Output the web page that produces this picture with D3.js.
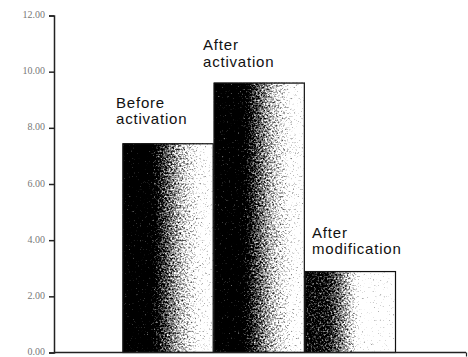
<!DOCTYPE html>
<html>
<head>
<meta charset="utf-8">
<script src="https://cdn.jsdelivr.net/npm/d3@7"></script>
<style>
  html, body { margin: 0; padding: 0; background: #fff; }
  svg { display: block; }
</style>
</head>
<body>
<svg id="chart" width="468" height="357"></svg>
<script>
// ---- data ----
const categories = ["Before activation", "After activation", "After modification"];
const labelLines = [["Before", "activation"], ["After", "activation"], ["After", "modification"]];
const values = [7.45, 9.61, 2.9];
const yTicks = [0, 2, 4, 6, 8, 10, 12];
const yTickLabels = ["0.00", "2.00", "4.00", "6.00", "8.00", "10.00", "12.00"];

const svg = d3.select("#chart");
const axisX = 54, axisY = 352.5, axisRight = 466;

const y = d3.scaleLinear().domain([0, 12]).range([axisY, 15.5]);
const x = d3.scaleBand().domain(categories).range([122.5, 396]).padding(0);

// ---- defs: gradients and grain filter ----
const defs = svg.append("defs");
const gradStops = [
  [[0, "#000"], [0.3, "#000"], [0.45, "#555"], [0.62, "#a0a0a0"], [0.85, "#e8e8e8"], [1, "#fafafa"]],
  [[0, "#000"], [0.3, "#000"], [0.45, "#555"], [0.62, "#a0a0a0"], [0.85, "#e8e8e8"], [1, "#fafafa"]],
  [[0, "#2a2a2a"], [0.25, "#3e3e3e"], [0.4, "#808080"], [0.55, "#d2d2d2"], [0.62, "#fff"], [1, "#fff"]]
];
gradStops.forEach((stops, i) => {
  const g = defs.append("linearGradient").attr("id", "g" + i)
    .attr("x1", "0").attr("y1", "0").attr("x2", "1").attr("y2", "0");
  stops.forEach(s => g.append("stop").attr("offset", s[0]).attr("stop-color", s[1]));
});
const f = defs.append("filter").attr("id", "grain")
  .attr("x", 0).attr("y", 0).attr("width", 1).attr("height", 1)
  .attr("color-interpolation-filters", "sRGB");
f.append("feTurbulence").attr("type", "fractalNoise").attr("baseFrequency", 0.55)
  .attr("numOctaves", 2).attr("seed", 7).attr("result", "n");
f.append("feColorMatrix").attr("in", "n").attr("type", "matrix")
  .attr("values", "1 0 0 0 0  1 0 0 0 0  1 0 0 0 0  0 0 0 0 1").attr("result", "gn");
f.append("feComposite").attr("in", "SourceGraphic").attr("in2", "gn")
  .attr("operator", "arithmetic").attr("k1", 0).attr("k2", 1).attr("k3", 1.2).attr("k4", -0.6)
  .attr("result", "s");
const ct = f.append("feComponentTransfer").attr("in", "s").attr("result", "t");
["feFuncR", "feFuncG", "feFuncB"].forEach(fn =>
  ct.append(fn).attr("type", "linear").attr("slope", 1.7).attr("intercept", -0.35));
f.append("feComposite").attr("in", "t").attr("in2", "SourceAlpha").attr("operator", "in");

// ---- bars ----
const bars = svg.append("g");
bars.selectAll("rect.fill").data(values).join("rect")
  .attr("class", "fill")
  .attr("x", (d, i) => x(categories[i]))
  .attr("y", d => y(d))
  .attr("width", x.bandwidth())
  .attr("height", d => axisY - y(d))
  .attr("fill", (d, i) => `url(#g${i})`)
  .attr("filter", "url(#grain)");
bars.selectAll("rect.edge").data(values).join("rect")
  .attr("class", "edge")
  .attr("x", (d, i) => x(categories[i]) + 0.5)
  .attr("y", d => y(d) + 0.5)
  .attr("width", x.bandwidth() - 1)
  .attr("height", d => axisY - y(d) - 0.5)
  .attr("fill", "none")
  .attr("stroke", "#111")
  .attr("stroke-width", 1.2);

// ---- y axis ----
const yAxis = d3.axisLeft(y).tickValues(yTicks)
  .tickFormat((d, i) => yTickLabels[i]).tickSize(5).tickPadding(4);
const ya = svg.append("g").attr("transform", `translate(${axisX},0)`).call(yAxis);
ya.select(".domain").attr("stroke", "#222").attr("stroke-width", 1.5);
ya.selectAll(".tick line").attr("stroke", "#222").attr("stroke-width", 1.5);
ya.selectAll(".tick text").attr("font-family", "Liberation Serif, serif")
  .attr("font-size", 10).attr("dy", "0.2em").attr("fill", "#777");

// ---- x axis ----
const xAxisScale = d3.scaleLinear().domain([0, 1]).range([axisX, axisRight]);
const xa = svg.append("g").attr("transform", `translate(0,${axisY})`)
  .call(d3.axisBottom(xAxisScale).tickValues([1]).tickSize(4).tickFormat(""));
xa.select(".domain").attr("stroke", "#222").attr("stroke-width", 1.5)
  .attr("d", `M${axisX},0H${axisRight}`);
xa.selectAll(".tick line").attr("stroke", "#222").attr("stroke-width", 1.2);

// ---- category labels ----
const labelPos = [[116, 107.7], [203, 50], [312, 237.7]];
const lab = svg.append("g").attr("font-family", "Liberation Sans, Arial, sans-serif")
  .attr("font-size", 15).attr("fill", "#111").attr("letter-spacing", "0.8px");
labelLines.forEach((lines, i) => {
  const t = lab.append("text").attr("x", labelPos[i][0]).attr("y", labelPos[i][1]);
  lines.forEach((ln, j) => t.append("tspan").attr("x", labelPos[i][0])
    .attr("dy", j === 0 ? 0 : 16.5).text(ln));
});
</script>
</body>
</html>
